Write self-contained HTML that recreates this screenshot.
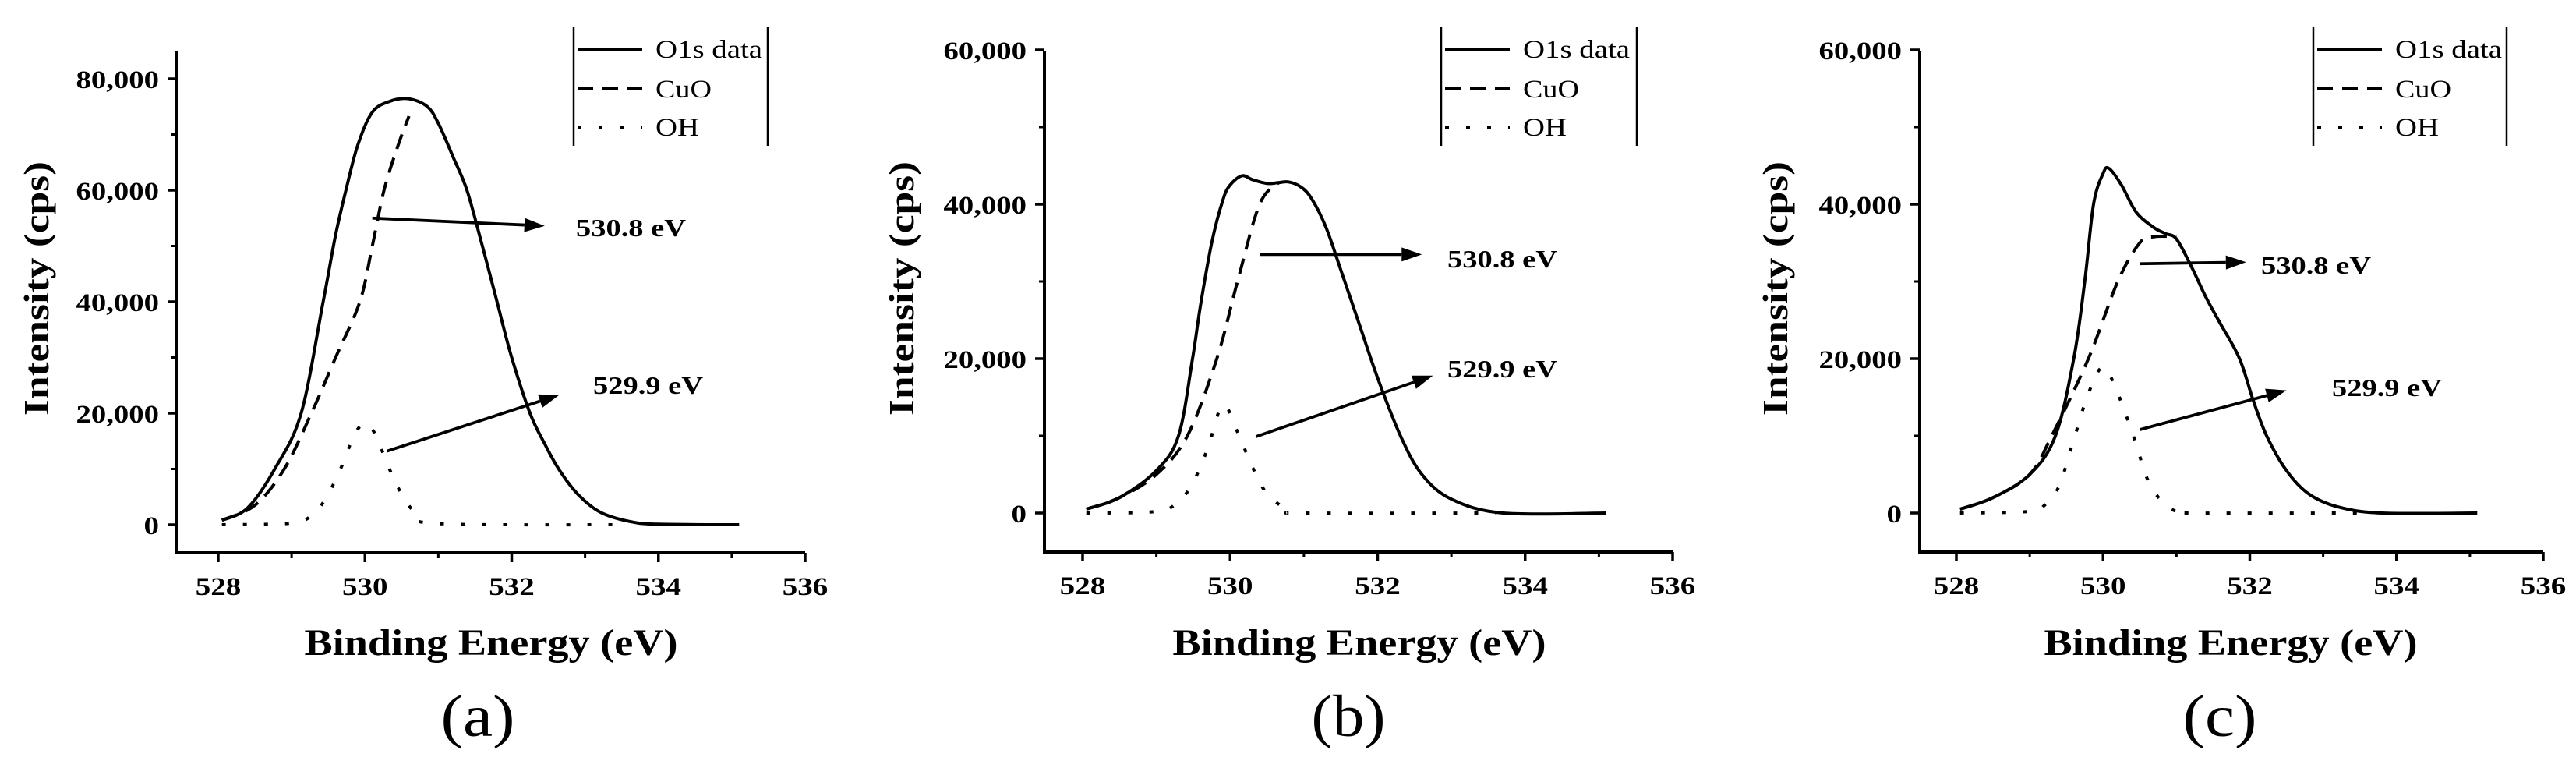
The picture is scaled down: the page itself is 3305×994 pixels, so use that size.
<!DOCTYPE html>
<html><head><meta charset="utf-8"><title>O1s XPS spectra</title>
<style>
html,body{margin:0;padding:0;background:#fff;}
svg{display:block;}
text{font-family:"Liberation Serif","Times New Roman",serif;fill:#000;}
</style></head>
<body>
<svg id="fig" width="3305" height="994" viewBox="0 0 3305 994" xmlns="http://www.w3.org/2000/svg"></svg>
<script>
// ---- data (binding energy eV, intensity cps) ----
const xTicks = [528, 530, 532, 534, 536];
const yTicksA = [0, 20000, 40000, 60000, 80000];
const yTicksBC = [0, 20000, 40000, 60000];
const yTickLabelsA = ["0", "20,000", "40,000", "60,000", "80,000"];
const yTickLabelsBC = ["0", "20,000", "40,000", "60,000"];
const legendLabels = ["O1s data", "CuO", "OH"];
const panelLabels = ["(a)", "(b)", "(c)"];
const peakLabels = ["530.8 eV", "529.9 eV"];

const dataAx = [528.05,528.4,528.77,529.13,529.43,529.6,529.74,529.9,530.1,530.35,530.6,530.85,531.0,531.2,531.39,531.6,531.8,532.0,532.25,532.45,532.65,532.9,533.2,533.6,534.0,535.1];
const dataAy = [800,3000,10000,20000,40000,52000,60000,68000,74000,76000,76400,75000,72000,66000,60000,50000,40000,30000,20000,14500,9800,5500,2300,600,100,0];
const cuoAx = [528.05,528.5,528.9,529.27,529.6,529.93,530.1,530.26,530.45,530.6];
const cuoAy = [800,3500,10000,20000,30000,40000,50000,60000,68000,73300];
const ohAx = [528.05,529.0,529.3,529.5,529.7,529.85,530.0,530.15,530.3,530.5,530.7,531.0,533.6];
const ohAy = [0,300,2000,5500,11000,16000,18200,16000,11000,5500,2000,200,0];

const dataBx = [528.05,528.5,529.0,529.3,529.49,529.6,529.75,529.9,530.0,530.16,530.3,530.5,530.65,530.79,530.95,531.1,531.3,531.5,531.75,532.0,532.31,532.6,533.0,533.7,535.1];
const dataBy = [500,2000,5500,10000,20000,27000,35000,40500,42500,43700,43200,42700,42800,42900,42300,40800,37000,31500,24500,17500,10000,5000,1800,0,0];
const cuoBx = [528.05,528.5,529.0,529.42,529.82,530.1,530.4,530.67];
const cuoBy = [500,2000,5000,10000,20000,30000,40000,42900];
const ohBx = [528.05,529.0,529.3,529.5,529.7,529.9,530.1,530.3,530.5,530.8,531.0,533.6];
const ohBy = [0,200,1500,4000,8500,14000,10500,6000,2500,300,0,0];

const dataCx = [528.05,528.5,529.0,529.35,529.6,529.75,529.87,530.0,530.08,530.25,530.45,530.69,530.85,531.0,531.2,531.4,531.6,531.86,532.05,532.23,532.5,532.8,533.2,533.8,535.1];
const dataCy = [500,2000,5000,10000,20000,30000,40000,44000,44650,42500,39000,37000,36200,35500,32000,28000,24500,20000,14500,10000,5500,2500,800,0,0];
const cuoCx = [528.05,528.5,529.0,529.3,529.8,530.2,530.5,530.7,531.0];
const cuoCy = [500,2000,5000,10000,20000,30000,35000,35800,35800];
const ohCx = [528.05,529.0,529.2,529.4,529.6,529.8,530.0,530.2,530.43,530.6,530.8,531.0,531.2,533.6];
const ohCy = [0,200,1000,3500,9500,15500,18900,15500,9500,4500,1500,200,0,0];

// annotation arrow endpoints (data coords): [x1,y1,x2,y2]
const arrow1A = [530.1, 55000, 532.45, 53600];
const arrow2A = [530.3, 13200, 532.65, 23300];
const arrow1B = [530.4, 33500, 532.6, 33500];
const arrow2B = [530.35, 9900, 532.75, 17800];
const arrow1C = [530.5, 32300, 531.95, 32500];
const arrow2C = [530.5, 10800, 532.5, 15900];

const NS = "http://www.w3.org/2000/svg";
const svg = document.getElementById("fig");
function mk(tag, attrs, parent) {
  const e = document.createElementNS(NS, tag);
  for (const k in attrs) e.setAttribute(k, attrs[k]);
  (parent || svg).appendChild(e);
  return e;
}
function labelWidth(s) {
  let w = 0;
  for (const c of s) w += (c === ",") ? 9 : 19.5;
  return w;
}
function smoothPath(P) {
  let d = "M" + P[0][0].toFixed(1) + "," + P[0][1].toFixed(1);
  for (let i = 0; i < P.length - 1; i++) {
    const p0 = P[Math.max(0, i - 1)], p1 = P[i], p2 = P[i + 1], p3 = P[Math.min(P.length - 1, i + 2)];
    const t = 1 / 6;
    const c1x = p1[0] + (p2[0] - p0[0]) * t, c1y = p1[1] + (p2[1] - p0[1]) * t;
    const c2x = p2[0] - (p3[0] - p1[0]) * t, c2y = p2[1] - (p3[1] - p1[1]) * t;
    d += " C" + c1x.toFixed(1) + "," + c1y.toFixed(1) + " " + c2x.toFixed(1) + "," + c2y.toFixed(1) + " " + p2[0].toFixed(1) + "," + p2[1].toFixed(1);
  }
  return d;
}

const panels = [
  {id:"a", axisLeft:227, x528:280, x536:1033, y0:673, per:143, top:65, bottom:709, yTicks:yTicksA, yLabels:yTickLabelsA,
   series:[[dataAx,dataAy],[cuoAx,cuoAy],[ohAx,ohAy]], arrows:[arrow1A,arrow2A], textPos:[[739,303],[761,505]],
   legendL:736, legendR:985, yTitleX:46, xTitleX:630, panelX:613},
  {id:"b", axisLeft:1340, x528:1389, x536:2146, y0:658, per:198, top:65, bottom:708, yTicks:yTicksBC, yLabels:yTickLabelsBC,
   series:[[dataBx,dataBy],[cuoBx,cuoBy],[ohBx,ohBy]], arrows:[arrow1B,arrow2B], textPos:[[1857,343],[1857,484]],
   legendL:1849, legendR:2100, yTitleX:1156, xTitleX:1744, panelX:1730},
  {id:"c", axisLeft:2463, x528:2510, x536:3263, y0:658, per:198, top:65, bottom:708, yTicks:yTicksBC, yLabels:yTickLabelsBC,
   series:[[dataCx,dataCy],[cuoCx,cuoCy],[ohCx,ohCy]], arrows:[arrow1C,arrow2C], textPos:[[2901,351],[2992,508]],
   legendL:2968, legendR:3216, yTitleX:2277, xTitleX:2862, panelX:2848}
];

const styles = [
  {dash:null, name:"o1s-data-line"},
  {dash:"20 12", name:"cuo-fit-line"},
  {dash:"5 22", name:"oh-fit-line"}
];

panels.forEach(p => {
  const xs = v => p.x528 + (v - 528) * (p.x536 - p.x528) / 8;
  const ys = v => p.y0 - v * p.per / 20000;
  const g = mk("g", {});
  
  

  const ya = mk("line", {x1:p.axisLeft, y1:p.top, x2:p.axisLeft, y2:p.bottom+2, stroke:"#000","stroke-width":4}, g);
  
  
  const xa = mk("line", {x1:p.axisLeft-2, y1:p.bottom, x2:p.x536, y2:p.bottom, stroke:"#000","stroke-width":4}, g);
  
  

  xTicks.forEach(t => {
    const x = xs(t);
    mk("line", {x1:x, y1:p.bottom, x2:x, y2:p.bottom+12, stroke:"#000","stroke-width":3.5}, g);
    const lab = String(t);
    const tx = mk("text", {x:x, y:p.bottom+54, "text-anchor":"middle","font-size":33,"font-weight":"bold",
      textLength:labelWidth(lab), lengthAdjust:"spacingAndGlyphs"}, g);
    tx.textContent = lab;
    
    
    if (t < 536) {
      const xm = xs(t + 1);
      mk("line", {x1:xm, y1:p.bottom, x2:xm, y2:p.bottom+7, stroke:"#000","stroke-width":3}, g);
    }
  });
  p.yTicks.forEach((t, i) => {
    const y = ys(t);
    mk("line", {x1:p.axisLeft-12, y1:y, x2:p.axisLeft, y2:y, stroke:"#000","stroke-width":3.5}, g);
    const lab = p.yLabels[i];
    const tx = mk("text", {x:p.axisLeft-23, y:y+12, "text-anchor":"end","font-size":33,"font-weight":"bold",
      textLength:labelWidth(lab), lengthAdjust:"spacingAndGlyphs"}, g);
    tx.textContent = lab;
    
    
    const ym = ys(t + 10000);
    if (ym > p.top) mk("line", {x1:p.axisLeft-7, y1:ym, x2:p.axisLeft, y2:ym, stroke:"#000","stroke-width":3}, g);
  });

  const yt = mk("text", {x:0, y:0, "text-anchor":"middle","font-size":46,"font-weight":"bold",
    transform:`translate(${p.yTitleX+16},370) rotate(-90)`, textLength:326, lengthAdjust:"spacingAndGlyphs"}, g);
  yt.textContent = "Intensity (cps)";
  
  
  const xt = mk("text", {x:p.xTitleX, y:840, "text-anchor":"middle","font-size":48,"font-weight":"bold",
    textLength:479, lengthAdjust:"spacingAndGlyphs"}, g);
  xt.textContent = "Binding Energy (eV)";
  
  
  const pl = mk("text", {x:p.panelX, y:944, "text-anchor":"middle","font-size":76,
    textLength:95, lengthAdjust:"spacingAndGlyphs"}, g);
  pl.textContent = panelLabels[panels.indexOf(p)];
  
  

  p.series.forEach((s, si) => {
    const P = s[0].map((x, k) => [xs(x), ys(s[1][k])]);
    const attrs = {d:smoothPath(P), fill:"none", stroke:"#000", "stroke-width":4, "stroke-linejoin":"round"};
    if (styles[si].dash) attrs["stroke-dasharray"] = styles[si].dash;
    const pl2 = mk("path", attrs, g);
    
    
  });

  p.arrows.forEach((a, ai) => {
    const x1 = xs(a[0]), y1 = ys(a[1]), x2 = xs(a[2]), y2 = ys(a[3]);
    const ang = Math.atan2(y2 - y1, x2 - x1);
    const L = 26, W = 9;
    const bx = x2 - L * Math.cos(ang), by = y2 - L * Math.sin(ang);
    const ln = mk("line", {x1:x1, y1:y1, x2:bx, y2:by, stroke:"#000","stroke-width":3.8}, g);
    
    
    const px = -Math.sin(ang) * W, py = Math.cos(ang) * W;
    mk("polygon", {points:`${x2},${y2} ${bx+px},${by+py} ${bx-px},${by-py}`, fill:"#000"}, g);
    const tp = p.textPos[ai];
    const t = mk("text", {x:tp[0], y:tp[1], "font-size":32,"font-weight":"bold",
      textLength:141, lengthAdjust:"spacingAndGlyphs"}, g);
    t.textContent = peakLabels[ai];
    
    
  });

  const lg = mk("g", {}, g);
  
  
  mk("line", {x1:p.legendL, y1:35, x2:p.legendL, y2:187, stroke:"#000","stroke-width":2.5}, lg);
  mk("line", {x1:p.legendR, y1:35, x2:p.legendR, y2:187, stroke:"#000","stroke-width":2.5}, lg);
  const rows = [63, 114, 163];
  legendLabels.forEach((lab, li) => {
    const la = {x1:p.legendL+5, y1:rows[li], x2:p.legendL+88, y2:rows[li], stroke:"#000","stroke-width":4};
    if (styles[li].dash) la["stroke-dasharray"] = styles[li].dash;
    mk("line", la, lg);
    const tw = [137, 72, 56][li];
    const t = mk("text", {x:p.legendL+105, y:rows[li]+11, "font-size":33, textLength:tw, lengthAdjust:"spacingAndGlyphs"}, lg);
    t.textContent = lab;
    
    
  });
});
</script>
</body></html>
